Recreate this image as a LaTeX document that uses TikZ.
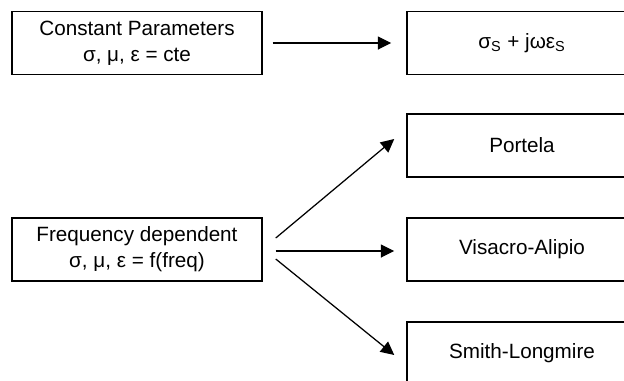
\documentclass[tikz,border=0pt]{standalone}
\usepackage{fontspec}
\setmainfont{Liberation Sans}
\usetikzlibrary{arrows.meta}

\begin{document}
\begin{tikzpicture}[x=0.6pt,y=-0.6pt,
    box/.style={draw,line width=0.9pt,minimum height=37.8pt,align=center,
      font=\fontsize{12.4}{15.6}\selectfont,inner sep=0pt},
    srcbox/.style={box,minimum width=150pt},
    modelbox/.style={box,minimum width=138pt},
    conn/.style={line width=0.75pt,-{Triangle[length=8pt,width=7.8pt]}}]
      \clip (0,0) rectangle (624,381);
      % sources
      \node[srcbox] (cte) at (137,43) {Constant Parameters\\σ, μ, ε = cte};
      \node[srcbox] (freq) at (137,249.5) {Frequency dependent\\σ, μ, ε = f(freq)};
      % models
      \node[modelbox] (cst) at (522,43) {σ\textsubscript{S} + jωε\textsubscript{S}};
      \node[modelbox] (port) at (522,145.5) {Portela};
      \node[modelbox] (visa) at (522,249.5) {Visacro-Alipio};
      \node[modelbox] (smith) at (522,353.5) {Smith-Longmire};
      % connectors
      \draw[conn] ([xshift=6pt]cte.east) -- ([xshift=-9pt]cst.west);
      \draw[conn] ([shift={(13,-11.5)}]freq.east) -- ([shift={(-12,-6.5)}]port.west);
      \draw[conn] ([xshift=7.8pt,yshift=-0.9pt]freq.east) -- ([xshift=-7.2pt,yshift=-0.9pt]visa.west);
      \draw[conn] ([shift={(13,9.5)}]freq.east) -- ([shift={(-12,1.5)}]smith.west);
    \end{tikzpicture}
\end{document}
